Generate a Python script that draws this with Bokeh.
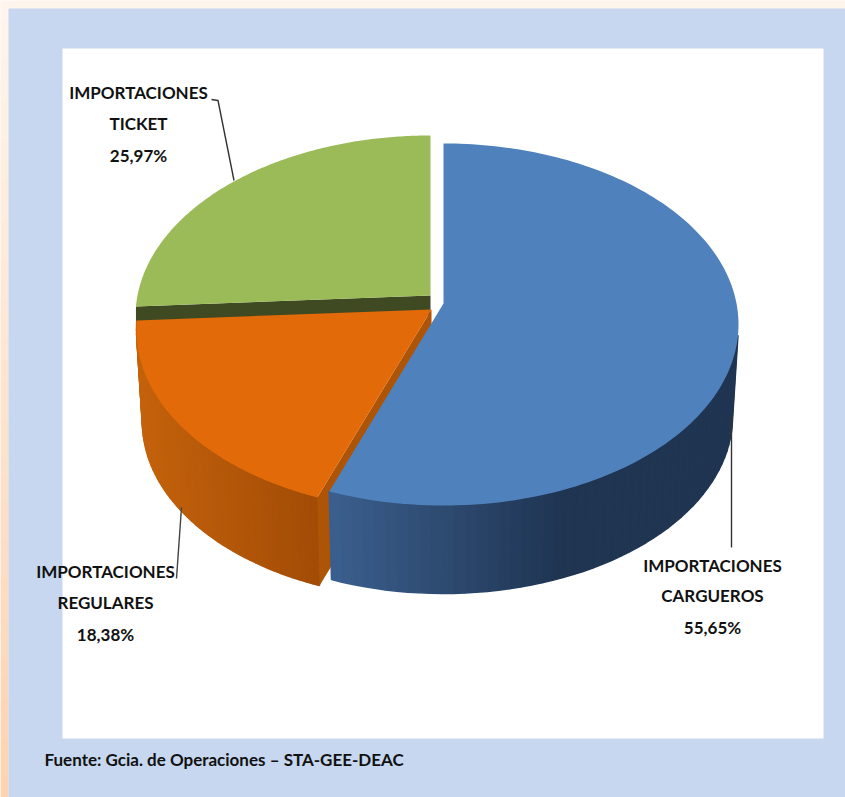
import numpy as np
from bokeh.plotting import figure
from bokeh.embed import file_html
from bokeh.resources import INLINE
from bokeh.core.properties import value

categories = ["IMPORTACIONES CARGUEROS", "IMPORTACIONES REGULARES", "IMPORTACIONES TICKET"]
shares = [55.65, 18.38, 25.97]
share_labels = ["55,65%", "18,38%", "25,97%"]

PANEL = "#c6d7ef"
A, B, K = 293.0, 178.6, 0.116
DEPTH, SHRINK = 92.0, 0.98
apex = [(443, 303), (431, 309), (430, 295)]
top_col = ["#4f81bd", "#e26a08", "#9bbb59"]

def proj(a, th, base=False):
    th = np.radians(th)
    u, v = np.sin(th), -np.cos(th)
    d = 1 - K * v
    s = SHRINK if base else 1.0
    return a[0] + s * A * u / d, a[1] + (DEPTH if base else 0) + s * B * v / d

def mix(c1, c2, t):
    t = min(max(t, 0), 1)
    a = [int(c1[i:i + 2], 16) for i in (1, 3, 5)]
    b = [int(c2[i:i + 2], 16) for i in (1, 3, 5)]
    return "#%02x%02x%02x" % tuple(int(round(p + (q - p) * t)) for p, q in zip(a, b))

p = figure(width=845, height=797, x_range=(0, 845), y_range=(797, 0),
           x_axis_type=None, y_axis_type=None, toolbar_location=None,
           output_backend="svg", min_border=0, outline_line_color=None,
           background_fill_color="#fdf4ec", border_fill_color="#fdf4ec")
p.grid.visible = False

# page background strip with vertical peach gradient
ys = np.linspace(0, 797, 41)
strip_cols = [mix("#fdf5ee", "#fdd3b2", k / 39) for k in range(40)]
p.quad(left=0, right=8, top=ys[:-1], bottom=ys[1:] + 0.5, fill_color=strip_cols, line_color=None)
p.quad(left=[8], right=[845], top=[8], bottom=[797], fill_color=PANEL, line_color=None)
p.quad(left=[62], right=[823], top=[48], bottom=[738], fill_color="white", line_color=None)

edges = np.concatenate([[0], np.cumsum(shares)]) * 3.6
starts, ends = edges[:-1], edges[1:]

def strips(i, th0, th1, c1, c2, x1, x2, n=50):
    ths = np.linspace(th0, th1, n + 1)
    xs, ys, cols = [], [], []
    for a, b in zip(ths[:-1], ths[1:]):
        pts = [proj(apex[i], a), proj(apex[i], b), proj(apex[i], b, True), proj(apex[i], a, True)]
        xs.append([q[0] for q in pts])
        ys.append([q[1] for q in pts])
        xm = sum(xs[-1]) / 4
        cols.append(mix(c1, c2, (xm - x1) / (x2 - x1)))
    p.patches(xs, ys, fill_color=cols, line_color=cols, line_width=1.5)

def cut(i, th, col, depth):
    a = apex[i]
    r = proj(a, th)
    p.patch([a[0], r[0], r[0], a[0]], [a[1], r[1], r[1] + depth, a[1] + depth], fill_color=col, line_color=None)

def top(i):
    ths = np.linspace(starts[i], ends[i], 160)
    pts = [proj(apex[i], t) for t in ths]
    p.patch([apex[i][0]] + [q[0] for q in pts], [apex[i][1]] + [q[1] for q in pts],
            fill_color=top_col[i], line_color=None)

# green
cut(2, starts[2], "#3f4a22", 20)
top(2)
# orange
a1 = apex[1]
r1, b1 = proj(a1, starts[1]), proj(a1, starts[1], True)
strips(1, starts[1], ends[1], "#a24c06", "#c4620c", 317, 140)
p.patch([a1[0], r1[0], b1[0], a1[0]], [a1[1], r1[1], b1[1], a1[1] + DEPTH], fill_color="#ad5407", line_color=None)
top(1)
# blue
strips(0, 100, ends[0], "#3b5f8e", "#1f3552", 330, 560)
top(0)

# leader lines
p.line([211, 217.5, 233.5], [99, 100, 180], line_color="#333333", line_width=1.4)
p.line([181, 176], [507, 578], line_color="#444444", line_width=1.4)
p.line([731, 731], [415, 547], line_color="#333333", line_width=1.4)

# labels
lab_x = [712, 105, 138]
lab_y = [[565, 595, 627], [571, 602, 634], [92, 123, 155]]
for i, name in enumerate(categories):
    w1, w2 = name.split(" ")
    p.text([lab_x[i]] * 3, lab_y[i], text=[w1, w2, share_labels[i]],
           text_font=value("Lato"), text_font_size="17px", text_font_style="bold",
           text_color="#111111", text_align="center", text_baseline="middle")

p.text([44], [759], text=["Fuente: Gcia. de Operaciones – STA-GEE-DEAC"],
       text_font=value("Lato"), text_font_size="17px", text_font_style="bold",
       text_color="#111111", text_align="left", text_baseline="middle")

open("out.html", "w").write(file_html(p, INLINE))
